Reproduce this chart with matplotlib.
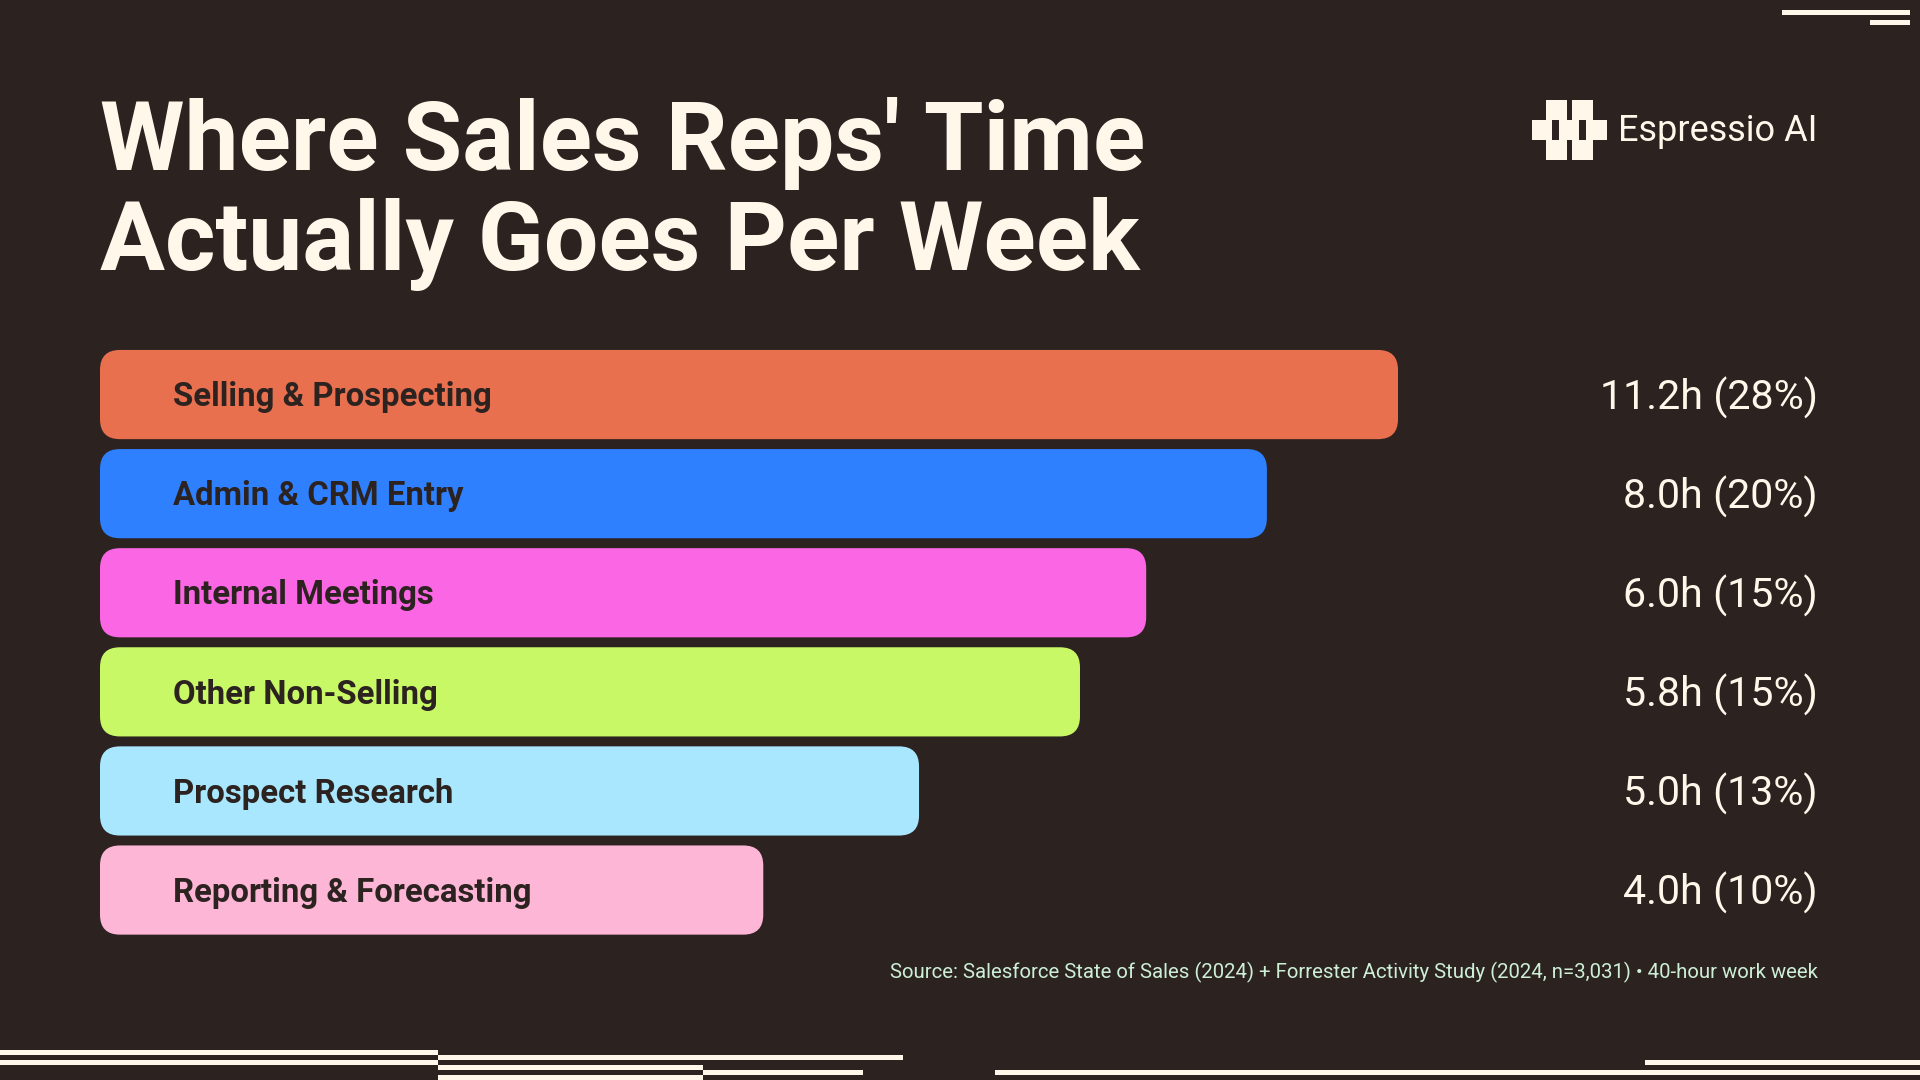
import matplotlib
matplotlib.use("Agg")
import matplotlib.pyplot as plt
from matplotlib import font_manager, transforms
from matplotlib.patches import FancyBboxPatch, Rectangle

# ---------------- data ----------------
categories = ["Selling & Prospecting", "Admin & CRM Entry", "Internal Meetings",
              "Other Non-Selling", "Prospect Research", "Reporting & Forecasting"]
hours = [11.2, 8.0, 6.0, 5.8, 5.0, 4.0]
shares = [28, 20, 15, 15, 13, 10]
# displayed bar length (relative index, longest = 100)
bar_len = [100, 89.9, 80.6, 75.5, 63.1, 51.1]

title_lines = ["Where Sales Reps' Time", "Actually Goes Per Week"]
brand = "Espressio AI"
source = ("Source: Salesforce State of Sales (2024) + Forrester Activity Study "
          "(2024, n=3,031) \u2022 40-hour work week")

# ---------------- style ----------------
BG = "#2C2321"
CREAM = "#FFF8EA"
DARK = "#2C2321"
MINT = "#CDEFD6"
bar_colors = ["#E8704F", "#2E80FE", "#FA66E3", "#C8F866", "#A8E7FE", "#FEB6D7"]


def pick_font(cands, weight="normal"):
    for f in cands:
        try:
            font_manager.findfont(font_manager.FontProperties(family=f, weight=weight),
                                  fallback_to_default=False)
            return f
        except Exception:
            continue
    return "DejaVu Sans"


F_BOLD = pick_font(["Roboto", "Liberation Sans", "DejaVu Sans"], "bold")
F_REG = pick_font(["Roboto", "Liberation Sans", "DejaVu Sans"], "normal")

W, H, DPI = 1920, 1080, 100
fig = plt.figure(figsize=(W / DPI, H / DPI), dpi=DPI, facecolor=BG)

# bar axes (pixel geometry of the plotting region)
bx0, bx1 = 100, 1398
by_top, by_bot = 345.0, 939.6
ax = fig.add_axes([bx0 / W, 1 - by_bot / H, (bx1 - bx0) / W, (by_bot - by_top) / H])
ax.set_facecolor("none")
ax.set_xlim(0, 100)
n = len(categories)
ax.set_ylim(n - 0.5, -0.5)
ax.axis("off")

# overlay axes in pixel coordinates for text & decoration
ov = fig.add_axes([0, 0, 1, 1], zorder=5)
ov.set_xlim(0, W)
ov.set_ylim(H, 0)
ov.axis("off")
ov.set_facecolor("none")

bars = ax.barh(range(n), bar_len, height=0.9, color="none")
px_per_x = (bx1 - bx0) / 100.0
px_per_y = (by_bot - by_top) / n
r_px = 20
for rect, c in zip(bars, bar_colors):
    fb = FancyBboxPatch((rect.get_x(), rect.get_y()), rect.get_width(), rect.get_height(),
                        boxstyle=f"round,pad=0,rounding_size={r_px / px_per_x}",
                        mutation_aspect=px_per_x / px_per_y,
                        facecolor=c, edgecolor="none")
    ax.add_patch(fb)
    rect.set_visible(False)

renderer = fig.canvas.get_renderer()


def fit(t, target_w):
    t.set_fontsize(50)
    w = t.get_window_extent(renderer).width
    t.set_fontsize(50 * target_w / w)
    return t


# title
t1 = ov.text(100, 170, title_lines[0], family=F_BOLD, weight="bold", color=CREAM,
             ha="left", va="baseline")
fit(t1, 1039)
t2 = ov.text(100, 270, title_lines[1], family=F_BOLD, weight="bold", color=CREAM,
             ha="left", va="baseline")
fit(t2, 1043)
fs_title = 0.5 * (t1.get_fontsize() + t2.get_fontsize())
t1.set_fontsize(fs_title)
t2.set_fontsize(fs_title)

# brand
bt = ov.text(1618, 141, brand, family=F_REG, weight="normal", color=CREAM,
             ha="left", va="baseline")
fit(bt, 200)
for (x0, y0, x1, y1, col) in [
    (1532, 120, 1607, 140, CREAM), (1546, 100, 1567, 160, CREAM),
    (1572, 100, 1593, 160, CREAM), (1552, 120, 1559, 140, BG), (1579, 120, 1586, 140, BG)]:
    ov.add_patch(Rectangle((x0, y0), x1 - x0, y1 - y0, facecolor=col, edgecolor="none"))

# labels inside bars & values on the right
blend = transforms.blended_transform_factory(ov.transData, ax.transData)
label_ref = ov.text(0, 0, categories[0], family=F_BOLD, weight="bold")
fit(label_ref, 319)
fs_lab = label_ref.get_fontsize()
label_ref.remove()
val_ref = ov.text(0, 0, f"{hours[0]:.1f}h ({shares[0]}%)", family=F_REG, weight="normal")
fit(val_ref, 218)
fs_val = val_ref.get_fontsize()
val_ref.remove()

for i, (cat, h, s) in enumerate(zip(categories, hours, shares)):
    cap_l = fs_lab * DPI / 72 * 0.711
    tr = transforms.offset_copy(blend, fig=fig, x=0, y=-cap_l / 2 * 72 / DPI, units="points")
    ov.text(173, i, cat, transform=tr, family=F_BOLD, weight="bold", fontsize=fs_lab,
            color=DARK, ha="left", va="baseline")
    cap_v = fs_val * DPI / 72 * 0.711
    tr2 = transforms.offset_copy(blend, fig=fig, x=0, y=-cap_v / 2 * 72 / DPI, units="points")
    ov.text(1818, i, f"{h:.1f}h ({s}%)", transform=tr2, family=F_REG, weight="normal",
            fontsize=fs_val, color=CREAM, ha="right", va="baseline")

# source
st = ov.text(1818, 978, source, family=F_REG, color=MINT, ha="right", va="baseline")
fit(st, 930)

# decorative lines
for (x0, y0, x1, y1) in [
    (1782, 10, 1910, 15), (1870, 20, 1910, 25),
    (0, 1050, 438, 1055), (0, 1060, 438, 1065), (438, 1055, 903, 1060),
    (438, 1065, 703, 1070), (703, 1070, 863, 1075), (438, 1075, 703, 1080),
    (1645, 1060, 1920, 1065), (995, 1070, 1920, 1075)]:
    ov.add_patch(Rectangle((x0, y0), x1 - x0, y1 - y0, facecolor=CREAM, edgecolor="none"))

fig.savefig("out.png", dpi=DPI, facecolor=BG)
